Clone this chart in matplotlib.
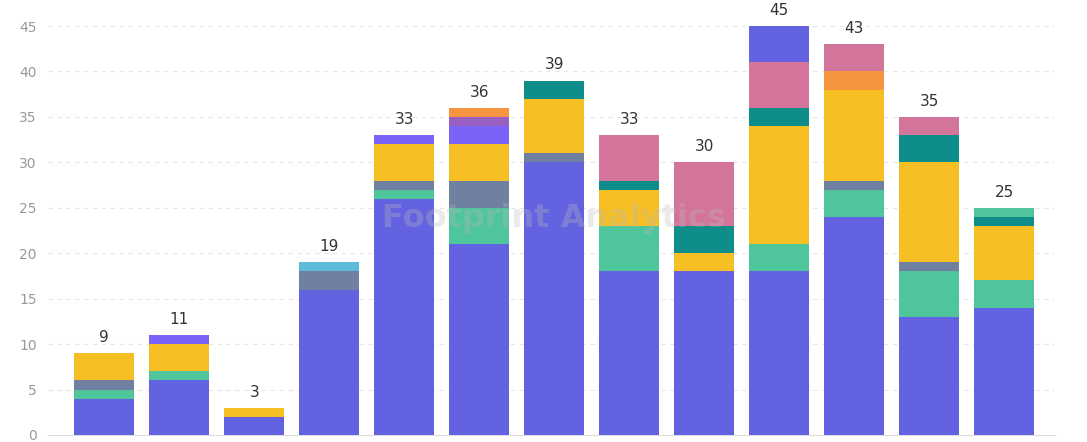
import matplotlib.pyplot as plt
import numpy as np

# 13 columns, stacked series from bottom to top
n_bars = 13
blue = [4, 6, 2, 16, 26, 21, 30, 18, 18, 18, 24, 13, 14]
green = [1, 1, 0, 0, 1, 4, 0, 5, 0, 3, 3, 5, 3]
slate = [1, 0, 0, 2, 1, 3, 1, 0, 0, 0, 1, 1, 0]
yellow = [3, 3, 1, 0, 4, 4, 6, 4, 2, 13, 10, 11, 6]
purple = [0, 1, 0, 0, 1, 2, 0, 0, 0, 0, 0, 0, 0]
violet = [0, 0, 0, 0, 0, 1, 0, 0, 0, 0, 0, 0, 0]
light_blue = [0, 0, 0, 1, 0, 0, 0, 0, 0, 0, 0, 0, 0]
teal = [0, 0, 0, 0, 0, 0, 2, 1, 3, 2, 0, 3, 1]
orange = [0, 0, 0, 0, 0, 1, 0, 0, 0, 0, 2, 0, 0]
pink = [0, 0, 0, 0, 0, 0, 0, 5, 7, 5, 3, 2, 0]
blue_top = [0, 0, 0, 0, 0, 0, 0, 0, 0, 4, 0, 0, 0]
green_top = [0, 0, 0, 0, 0, 0, 0, 0, 0, 0, 0, 0, 1]

series = [blue, green, slate, yellow, purple, violet, light_blue,
          teal, orange, pink, blue_top, green_top]
colors = ['#6363E1', '#4FC59B', '#7080A0', '#F6BF24', '#7B62F8', '#9A5FC2',
          '#5CBCDA', '#0F8D8A', '#F79440', '#D3749A', '#6363E1', '#4FC59B']

fig = plt.figure(figsize=(10.87, 4.42), dpi=100)
ax = fig.add_axes([48 / 1087, 7 / 442, (1055 - 48) / 1087, (435 - 26) / 442])

x = np.arange(n_bars)
bottom = np.zeros(n_bars)
for vals, c in zip(series, colors):
    vals = np.array(vals, dtype=float)
    ax.bar(x, vals, bottom=bottom, width=0.8, color=c, linewidth=0, zorder=3)
    bottom += vals

# totals above bars
for xi, tot in zip(x, bottom):
    ax.text(xi, tot + 0.9, f'{int(tot)}', ha='center', va='bottom',
            fontsize=11, color='#333333', clip_on=False)

ax.set_xlim(-0.75, 12.68)
ax.set_ylim(0, 45)
ax.set_yticks(range(0, 46, 5))
ax.set_xticks([])
ax.tick_params(axis='y', length=0, pad=8, labelsize=10, labelcolor='#999999')
ax.grid(axis='y', linestyle=(0, (4, 4)), color='#E6E6E6', linewidth=0.8, zorder=0)
for side in ['top', 'right', 'left']:
    ax.spines[side].set_visible(False)
ax.spines['bottom'].set_color('#DDDDDD')

# watermark
fig.text(0.51, 0.505, 'Footprint Analytics', ha='center', va='center',
         fontsize=23, fontweight='bold', color='#BBBBBB', alpha=0.3, zorder=10)

fig.savefig('out.png', dpi=100)
